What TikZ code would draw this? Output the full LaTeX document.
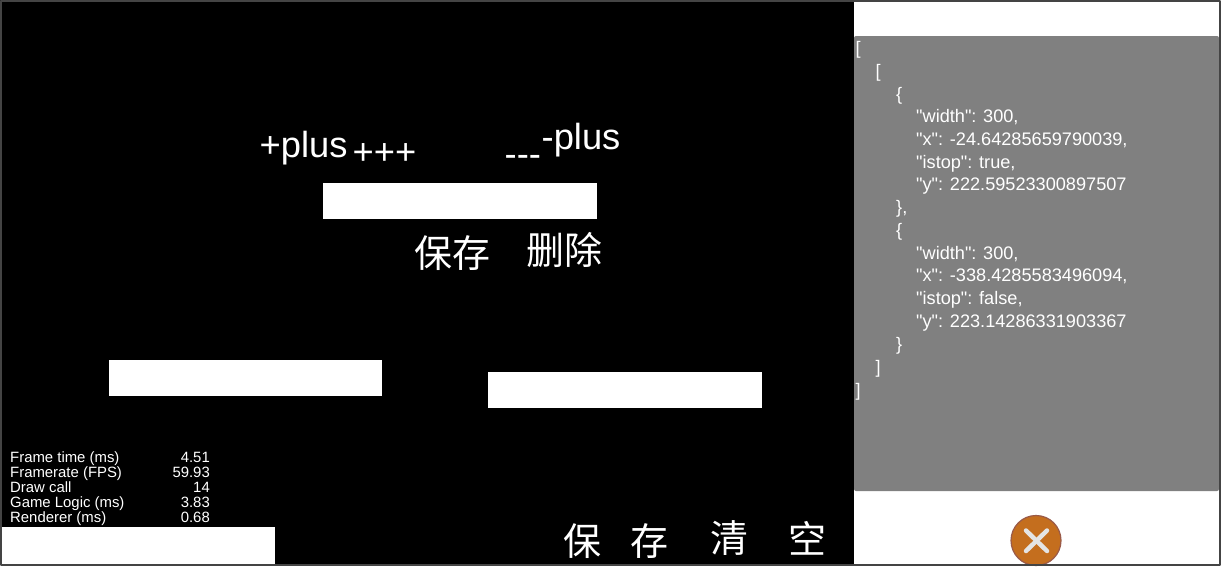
\documentclass[tikz,border=0pt]{standalone}
\usepackage{fontspec}
\newfontfamily\plainfont{Liberation Sans}
\newfontfamily\cjk{Noto Sans CJK SC}
\definecolor{framegray}{HTML}{444444}
\definecolor{panelgray}{HTML}{808080}
\definecolor{closefill}{HTML}{C46E1E}
\definecolor{closeedge}{HTML}{9A5A48}
\definecolor{closecross}{HTML}{E4E4E4}
\tikzset{
	bigtext/.style={text=white, inner sep=0pt, anchor=base west, font=\plainfont\fontsize{36.3}{36}\selectfont},
	cjktext/.style={text=white, inner sep=0pt, anchor=center, font=\cjk\fontsize{38}{38}\selectfont},
	jsontext/.style={text=white, inner sep=0pt, anchor=base west, font=\plainfont\fontsize{18.15}{20}\selectfont},
	statlabel/.style={text=white, inner sep=0pt, anchor=base west, font=\plainfont\fontsize{14.9}{15}\selectfont},
	statvalue/.style={text=white, inner sep=0pt, anchor=base east, font=\plainfont\fontsize{14.9}{15}\selectfont},
}

\begin{document}
\begin{tikzpicture}[x=1pt, y=-1pt, line cap=round, line join=round]
		\useasboundingbox (0,0) rectangle (1221,566);
		
		%========================
		% Backgrounds
		%========================
		\fill[white] (0,0) rectangle (1221,566);
		\fill[black] (0,0) rectangle (854,566);
		
		% white bars
		\fill[white] (323,183) rectangle (597,219);
		\fill[white] (109,360) rectangle (382,396);
		\fill[white] (488,372) rectangle (762,408);
		\fill[white] (0,527) rectangle (275,566);
		
		%========================
		% Centre labels
		%========================
		\node[bigtext] (plusleft) at (259.5,157) {+plus};
		\node[bigtext] (plusmarks) at (352.5,164.5) {+++};
		\node[bigtext] (minusmarks) at (504.5,166) {---};
		\node[bigtext] (plusright) at (541.5,149) {-plus};
		\node[cjktext] (savemid) at (452,253) {保存};
		\node[cjktext] (deletemid) at (564.5,250) {删除};
		
		% bottom row
		\node[cjktext] (savea) at (582,541.5) {保};
		\node[cjktext] (saveb) at (649.5,541.5) {存};
		\node[cjktext] (cleara) at (729.5,538.5) {清};
		\node[cjktext] (clearb) at (807.5,538.5) {空};
		
		%========================
		% Stats, bottom left
		%========================
		\node[statlabel] (framelabel) at (10,462) {Frame time (ms)};
		\node[statvalue] (framevalue) at (210,462) {4.51};
		\node[statlabel] (ratelabel) at (10,477) {Framerate (FPS)};
		\node[statvalue] (ratevalue) at (210,477) {59.93};
		\node[statlabel] (drawlabel) at (10,492) {Draw call};
		\node[statvalue] (drawvalue) at (210,492) {14};
		\node[statlabel] (logiclabel) at (10,507) {Game Logic (ms)};
		\node[statvalue] (logicvalue) at (210,507) {3.83};
		\node[statlabel] (renderlabel) at (10,522) {Renderer (ms)};
		\node[statvalue] (rendervalue) at (210,522) {0.68};
		
		%========================
		% Right: json panel
		%========================
		\fill[panelgray, rounded corners=2pt] (854,36) rectangle (1219,491);
		\node[jsontext] (jsona) at (855.5,54) {[};
		\node[jsontext] (jsonb) at (875.5,77) {[};
		\node[jsontext] (jsonc) at (896,100) {\{};
		\node[jsontext] (jsond) at (916,122) {"width": 300,};
		\node[jsontext] (jsone) at (916,145) {"x": -24.64285659790039,};
		\node[jsontext] (jsonf) at (916,168) {"istop": true,};
		\node[jsontext] (jsong) at (916,190) {"y": 222.59523300897507};
		\node[jsontext] (jsonh) at (896,213) {\},};
		\node[jsontext] (jsoni) at (896,236) {\{};
		\node[jsontext] (jsonj) at (916,259) {"width": 300,};
		\node[jsontext] (jsonk) at (916,281) {"x": -338.4285583496094,};
		\node[jsontext] (jsonl) at (916,304) {"istop": false,};
		\node[jsontext] (jsonm) at (916,327) {"y": 223.14286331903367};
		\node[jsontext] (jsonn) at (896,350) {\}};
		\node[jsontext] (jsono) at (875.5,373) {]};
		\node[jsontext] (jsonp) at (855.5,396) {]};
		
		% close button
		\draw[closeedge, fill=closefill, line width=1.2pt] (1036,540.5) circle (25);
		\draw[closecross, line width=4.5pt] (1026,530.5) -- (1047,551);
		\draw[closecross, line width=4.5pt] (1047,530.5) -- (1026,551);
		
		% outer frame
		\draw[framegray, line width=2pt, line cap=butt] (1,1) rectangle (1220,565);
		
	\end{tikzpicture}
\end{document}
